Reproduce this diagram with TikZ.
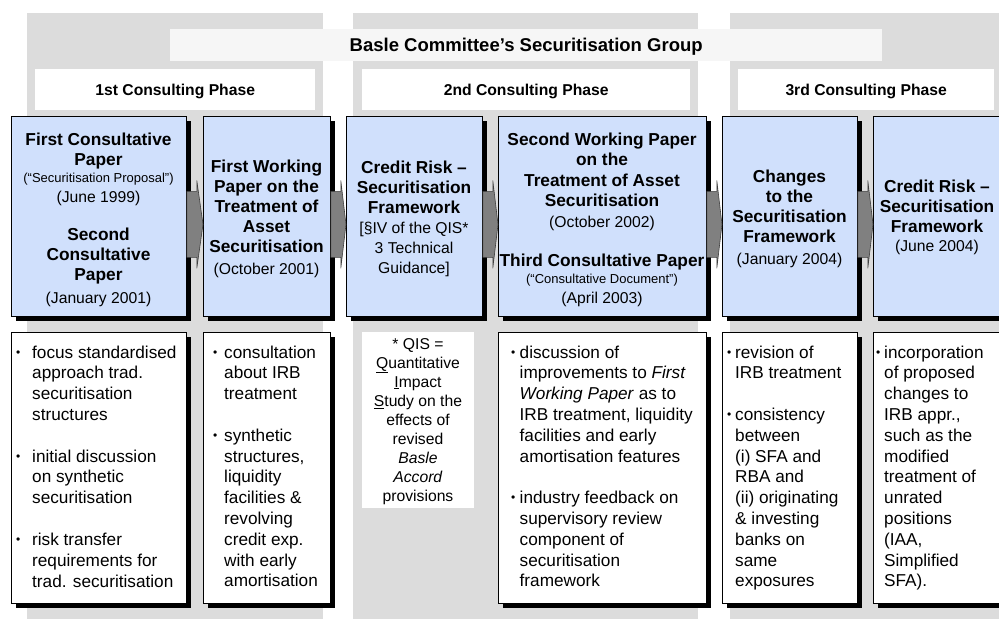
\documentclass[tikz,border=0pt]{standalone}
\usepackage{fontspec}
\setmainfont{Liberation Sans}
\usetikzlibrary{shadows,calc}
\definecolor{colbg}{RGB}{220,220,220}
\definecolor{titlebg}{RGB}{246,246,246}
\definecolor{boxblue}{RGB}{208,224,252}
\definecolor{arrgray}{RGB}{128,128,128}
\newcommand\FB[1]{{\fontsize{17.3bp}{20bp}\selectfont\bfseries #1}}
\newcommand\FD[1]{{\fontsize{15.7bp}{20bp}\selectfont #1}}
\newcommand\FS[1]{{\fontsize{13bp}{20bp}\selectfont #1}}
\newcommand\toptext[1]{\vtop{\hsize=240bp\centering\lineskiplimit=-1000pt\parskip=0pt\fontsize{17.3bp}{20bp}\selectfont #1\par}}
\newcommand\bdot{\raisebox{1.8bp}{\fontsize{12bp}{12bp}\selectfont •}}
\newcommand\bitem[2]{\par\hangindent=#1\hangafter=1\noindent\makebox[#1][l]{\bdot}\ignorespaces#2\par}
\newcommand\bultext[1]{\vtop{\hsize=250bp\raggedright\lineskiplimit=-1000pt\parskip=0pt\fontsize{17.2bp}{20.8bp}\selectfont #1}}
\newcommand\bgap{\vskip 20.9bp}
\newcommand\blockarr[2]{\draw[blockarrow] let \p1=(#1.east), \p2=(#2.west) in (\x1,\y1+25bp) -- (\x1+10bp,\y1+25bp) -- (\x1+10bp,\y1+36bp) -- (\x2,\y1-8bp) -- (\x1+10bp,\y1-52bp) -- (\x1+10bp,\y1-41bp) -- (\x1,\y1-41bp) -- cycle;}
\begin{document}
\begin{tikzpicture}[x=1bp,y=-1bp,
  colbox/.style={fill=colbg, draw=none, inner sep=0pt, outer sep=0pt, anchor=north west},
  titlebar/.style={fill=titlebg, draw=none, inner sep=0pt, anchor=north west, font=\fontsize{18.5bp}{22bp}\selectfont\bfseries, text height=13.2bp, text depth=0pt},
  phasehead/.style={fill=white, draw=none, inner sep=0pt, anchor=north west, font=\fontsize{15.7bp}{18bp}\selectfont\bfseries, text height=11.2bp, text depth=0pt},
  shadowed/.style={drop shadow={shadow xshift=4.5bp, shadow yshift=-4.5bp, fill=black, opacity=1}},
  paperbox/.style={fill=boxblue, draw=black, line width=0.8bp, inner sep=0pt, anchor=north west, shadowed},
  notebox/.style={fill=white, draw=black, line width=0.8bp, inner sep=0pt, anchor=north west, shadowed},
  qisbox/.style={fill=white, draw=none, inner sep=0pt, anchor=north west},
  txt/.style={inner sep=0pt, anchor=base},
  bul/.style={inner sep=0pt, anchor=base west},
  blockarrow/.style={fill=arrgray, draw=black!75, line width=0.6bp}
]
\useasboundingbox (0,0) rectangle (999,619);
% phase columns
\node[colbox, minimum width=296bp, minimum height=610bp] (col1) at (27,13) {};
\node[colbox, minimum width=345bp, minimum height=610bp] (col2) at (353,13) {};
\node[colbox, minimum width=280bp, minimum height=610bp] (col3) at (730,13) {};
% title and phase headers
\node[titlebar, minimum width=712bp, minimum height=32bp] (title) at (170,29) {Basle Committee’s Securitisation Group};
\node[phasehead, minimum width=280bp, minimum height=41bp] (h1) at (35,69) {1st Consulting Phase};
\node[phasehead, minimum width=328bp, minimum height=41bp] (h2) at (362,69) {2nd Consulting Phase};
\node[phasehead, minimum width=256bp, minimum height=41bp] (h3) at (738,69) {3rd Consulting Phase};
% top paper boxes
\node[paperbox, minimum width=175bp, minimum height=200bp] (t1) at (11,116) {};
\node[paperbox, minimum width=127bp, minimum height=200bp] (t2) at (203,116) {};
\node[paperbox, minimum width=136bp, minimum height=200bp] (t3) at (346,116) {};
\node[paperbox, minimum width=208bp, minimum height=200bp] (t4) at (498,116) {};
\node[paperbox, minimum width=135bp, minimum height=200bp] (t5) at (722,116) {};
\node[paperbox, minimum width=128bp, minimum height=200bp] (t6) at (873,116) {};
% bottom note boxes
\node[notebox, minimum width=175bp, minimum height=271bp] (b1) at (11,332) {};
\node[notebox, minimum width=127bp, minimum height=271bp] (b2) at (203,332) {};
\node[qisbox, minimum width=112bp, minimum height=176bp] (b3) at (362,332) {};
\node[notebox, minimum width=208bp, minimum height=271bp] (b4) at (498,332) {};
\node[notebox, minimum width=135bp, minimum height=271bp] (b5) at (722,332) {};
\node[notebox, minimum width=128bp, minimum height=271bp] (b6) at (873,332) {};
% block arrows
\blockarr{t1}{t2}
\blockarr{t2}{t3}
\blockarr{t3}{t4}
\blockarr{t4}{t5}
\blockarr{t5}{t6}
% top texts
\node[txt] (t1txt) at (98.5,146) {\toptext{\FB{First Consultative}\\
\FB{Paper}\\[-3bp]
\FS{(“Securitisation Proposal”)}\\
\FD{(June 1999)}\\[18bp]
\FB{Second}\\
\FB{Consultative}\\
\FB{Paper}\\[2bp]
\FD{(January 2001)}}};
\node[txt] (t2txt) at (266.5,173) {\toptext{\FB{First Working}\\
\FB{Paper on the}\\
\FB{Treatment of}\\
\FB{Asset}\\
\FB{Securitisation}\\[2bp]
\FD{(October 2001)}}};
\node[txt] (t3txt) at (414,174) {\toptext{\FB{Credit Risk –}\\
\FB{Securitisation}\\
\FB{Framework}\\
\FD{[§IV of the QIS*}\\
\FD{3 Technical}\\
\FD{Guidance]}}};
\node[txt] (t4txt) at (602,146) {\toptext{\FB{Second Working Paper}\\
\FB{on the}\\[1bp]
\FB{Treatment of Asset}\\
\FB{Securitisation}\\[1bp]
\FD{(October 2002)}\\[19bp]
\FB{Third Consultative Paper}\\[-3bp]
\FS{(“Consultative Document”)}\\[-1bp]
\FD{(April 2003)}}};
\node[txt] (t5txt) at (789.5,183) {\toptext{\FB{Changes}\\
\FB{to the}\\
\FB{Securitisation}\\
\FB{Framework}\\[2bp]
\FD{(January 2004)}}};
\node[txt] (t6txt) at (937,193) {\toptext{\FB{Credit Risk –}\\
\FB{Securitisation}\\
\FB{Framework}\\[-1bp]
\FD{(June 2004)}}};
% bottom texts
\node[bul] (b1txt) at (16,358) {\bultext{%
\bitem{16bp}{focus standardised\newline approach trad.\newline securitisation\newline structures}\bgap
\bitem{16bp}{initial discussion\newline on synthetic\newline securitisation}\bgap
\bitem{16bp}{risk transfer\newline requirements for\newline trad. securitisation}}};
\node[bul] (b2txt) at (213,358) {\bultext{%
\bitem{11bp}{consultation\newline about IRB\newline treatment}\bgap
\bitem{11bp}{synthetic\newline structures,\newline liquidity\newline facilities \&\newline revolving\newline credit exp.\newline with early\newline amortisation}}};
\node[txt] (b3txt) at (418,349) {\vtop{\hsize=130bp\centering\lineskiplimit=-1000pt\parskip=0pt\fontsize{15.7bp}{19.1bp}\selectfont
* QIS =\\
\underline{Q}uantitative\\
\underline{I}mpact\\
\underline{S}tudy on the\\
effects of\\
revised\\
\textit{Basle}\\
\textit{Accord}\\
provisions\par}};
\node[bul] (b4txt) at (511,358) {\bultext{%
\bitem{8.5bp}{discussion of\newline improvements to \textit{First}\newline \textit{Working Paper} as to\newline IRB treatment, liquidity\newline facilities and early\newline amortisation features}\bgap
\bitem{8.5bp}{industry feedback on\newline supervisory review\newline component of\newline securitisation\newline framework}}};
\node[bul] (b5txt) at (727,358) {\bultext{%
\bitem{8bp}{revision of\newline IRB treatment}\bgap
\bitem{8bp}{consistency\newline between\newline (i) SFA and\newline RBA and\newline (ii) originating\newline \& investing\newline banks on\newline same\newline exposures}}};
\node[bul] (b6txt) at (876,358) {\bultext{%
\bitem{8bp}{incorporation\newline of proposed\newline changes to\newline IRB appr.,\newline such as the\newline modified\newline treatment of\newline unrated\newline positions\newline (IAA,\newline Simplified\newline SFA).}}};
\end{tikzpicture}
\end{document}
